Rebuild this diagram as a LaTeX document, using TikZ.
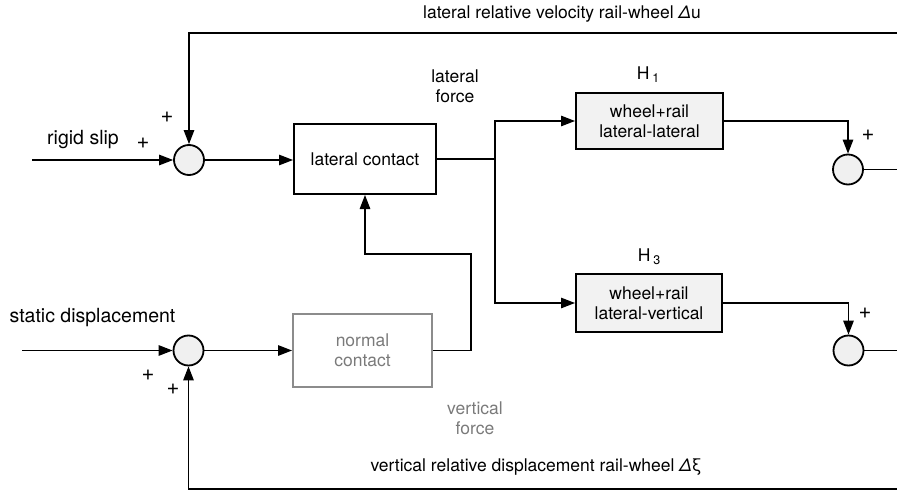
\documentclass[tikz,border=0pt]{standalone}
\usepackage{fontspec}
\setmainfont{TeX Gyre Heros}
\usetikzlibrary{arrows.meta}
\definecolor{boxfill}{HTML}{F2F2F2}
\definecolor{sumfill}{HTML}{F0F0F0}
\definecolor{grayedge}{HTML}{8C8C8C}
\definecolor{graytext}{HTML}{7A7A7A}
\newcommand\lblfont{\fontsize{17.5}{20}\selectfont}
\newcommand\bigfont{\fontsize{19.5}{22}\selectfont}
\newcommand\plusfont{\fontsize{22}{22}\selectfont}
\newcommand\subfont{\fontsize{12.5}{12.5}\selectfont}
\begin{document}
\begin{tikzpicture}[x=1pt,y=-1pt,
  conn/.style={line width=1.3pt},
  arr/.style={conn,-{Triangle[length=14pt,width=10.5pt]}},
  sumnode/.style={circle,draw,line width=1.8pt,fill=sumfill,minimum size=30pt,inner sep=0pt},
  blockbox/.style={draw,line width=2pt,align=center,font=\lblfont,inner sep=0pt},
  hbox/.style={blockbox,fill=boxfill},
  graybox/.style={blockbox,draw=grayedge,text=graytext},
  lbl/.style={font=\lblfont,align=center,inner sep=0pt},
  biglbl/.style={font=\bigfont,inner sep=0pt},
  plus/.style={font=\plusfont,inner sep=0pt}
]
\useasboundingbox (0,0) rectangle (897,492);

% blocks
\node[sumnode] (s1) at (189,160) {};
\node[sumnode] (s4) at (188.5,350.5) {};
\node[sumnode] (s2) at (848,169.5) {};
\node[sumnode] (s3) at (848.5,350.5) {};
\node[blockbox,minimum width=142pt,minimum height=70pt] (lc) at (365,159) {lateral contact};
\node[graybox,minimum width=139pt,minimum height=73pt] (nc) at (362.5,350.5) {normal\\contact};
\node[hbox,minimum width=147pt,minimum height=56pt] (h1) at (649.5,121) {wheel+rail\\lateral-lateral};
\node[hbox,minimum width=146pt,minimum height=58pt] (h3) at (649,303) {wheel+rail\\lateral-vertical};

% free ends
\coordinate (in1) at (32,160);
\coordinate (in4) at (22,350.5);
\coordinate (o2) at (897,169.5);
\coordinate (o3) at (897,350.5);
\coordinate (tf) at (897,33);
\coordinate (bf) at (897,489);
\coordinate (j) at (495,159);
\coordinate (k) at (471,254);

% connectors
\draw[arr] (in1) -- (s1);
\draw[arr] (in4) -- (s4);
\draw[arr] (s1) -- (s1 -| lc.west);
\draw[arr] (s4) -- (s4 -| nc.west);
\draw[conn] (lc.east) -- (j);
\draw[arr] (j) |- (h1.west);
\draw[arr] (j) |- (h3.west);
\draw[arr] (h1.east) -| (s2.north);
\draw[arr] (h3.east) -| (s3.north);
\draw[conn] (s2) -- (o2);
\draw[conn] (s3) -- (o3);
\draw[arr] (tf) -| (s1.north);
\draw[arr] (bf) -| (s4.south);
\draw[arr] (nc.east) -| (k) -| (lc.south);

% labels
\node[lbl] (tl) at (562,14) {lateral relative velocity rail-wheel \textit{Δ}u};
\node[lbl] (bl) at (536,467) {vertical relative displacement rail-wheel \textit{Δ}ξ};
\node[biglbl] (rs) at (83,140) {rigid slip};
\node[biglbl] (sd) at (92.5,318) {static displacement};
\node[lbl] (lf) at (455,86) {lateral\\force};
\node[lbl,text=graytext] (vf) at (475,418) {vertical\\force};
\node[lbl] (h1l) at (648,75) {H\,\raisebox{-3pt}{\subfont 1}};
\node[lbl] (h3l) at (649,257) {H\,\raisebox{-3pt}{\subfont 3}};
\node[plus] (p1) at (167,117) {+};
\node[plus] (p2) at (143,143) {+};
\node[plus] (p3) at (148,375) {+};
\node[plus] (p4) at (173,389) {+};
\node[plus] (p5) at (868,135) {+};
\node[plus] (p6) at (865,313) {+};
\end{tikzpicture}
\end{document}
